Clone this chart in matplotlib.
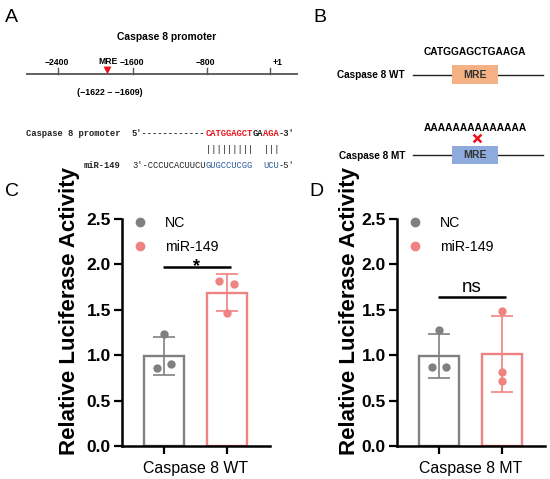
import matplotlib
matplotlib.use('Agg')
import matplotlib.pyplot as plt
from matplotlib.patches import Rectangle
from matplotlib.lines import Line2D

plt.rcParams['font.family'] = ['Liberation Sans', 'DejaVu Sans']

# datos
grupos = ['NC', 'miR-149']
wt_media = [0.99, 1.69]
wt_sd = [0.205, 0.20]
wt_puntos = [[0.86, 1.23, 0.90], [1.82, 1.47, 1.78]]
mt_media = [0.99, 1.01]
mt_sd = [0.24, 0.42]
mt_puntos = [[0.87, 1.28, 0.87], [0.81, 1.49, 0.72]]
categorias = ['Caspase 8 WT', 'Caspase 8 MT']
signif = ['*', 'ns']
signif_y = [1.97, 1.64]

promotor_ticks = ['\u22122400', '\u22121600', '\u2212800', '+1']
mre_rango = '(\u22121622 \u2013 \u22121609)'
seq_wt = 'CATGGAGCTGAAGA'
seq_mt = 'AAAAAAAAAAAAAA'

# estilo
gris = '#808080'
rojo = '#F08282'
colores = [gris, rojo]
W, H = 550, 479

fig = plt.figure(figsize=(W / 100, H / 100), dpi=100)
fig.patch.set_facecolor('white')

# capa para los esquemas A y B, en pixeles
ov = fig.add_axes([0, 0, 1, 1])
ov.set_xlim(0, W)
ov.set_ylim(H, 0)
ov.axis('off')

for letra, (lx, ly) in zip('ABCD', [(5, 17), (313, 17), (5, 191), (309, 192)]):
    ov.text(lx, ly, letra, fontsize=14, ha='left', va='center')

# ---- panel A ----
ov.text(167, 37, 'Caspase 8 promoter', fontsize=7.4, fontweight='bold', ha='center', va='center')
ov.plot([26, 298], [74, 74], color='#555555', lw=1.3, solid_capstyle='butt')
tick_x = [58, 133, 207, 270]
tick_lx = [57, 132, 205, 278]
for tx, lx, lab in zip(tick_x, tick_lx, promotor_ticks):
    ov.plot([tx, tx], [68, 74], color='#555555', lw=1.0)
    ov.text(lx, 62, lab, fontsize=6.2, fontweight='bold', ha='center', va='center')
ov.scatter([107], [70], marker='v', s=32, color='#E8141C', zorder=5, linewidths=0)
ov.text(108, 61, 'MRE', fontsize=6.2, fontweight='bold', ha='center', va='center')
ov.text(110, 92, mre_rango, fontsize=6.4, fontweight='bold', ha='center', va='center')

mono = dict(family='Liberation Mono', fontsize=6.3, va='center')
cw = 0.6 * 6.3 * 100 / 72
x0 = 132


def trozos(y, piezas, peso='bold'):
    i = 0
    for txt, col in piezas:
        ov.text(x0 + i * cw, y, txt, color=col, ha='left', fontweight=peso, **mono)
        i += len(txt)


ov.text(120, 134, 'Caspase 8 promoter', ha='right', fontweight='bold', color='#222222', **mono)
trozos(134, [("5'------------", '#222222'), ('CATGGAGCT', '#E8141C'), ('GA', '#222222'),
             ('AGA', '#E8141C'), ("-3'", '#222222')])
trozos(150, [('              ', 'k'), ('|||||||||  |||', '#222222')], peso='normal')
ov.text(120, 165, 'miR-149', ha='right', fontweight='bold', color='#222222', **mono)
trozos(165, [("3'-CCCUCACUUCU", '#222222'), ('GUGCCUCGG', '#2E5C9E'), ('  ', 'k'),
             ('UCU', '#2E5C9E'), ("-5'", '#222222')], peso='normal')

# ---- panel B ----
ov.text(475, 52, seq_wt, fontsize=7.3, fontweight='bold', ha='center', va='center')
ov.text(405, 75, categorias[0], fontsize=7.2, fontweight='bold', ha='right', va='center')
ov.plot([413, 543], [75, 75], color='#222222', lw=1.0)
ov.add_patch(Rectangle((452, 65), 46, 19, facecolor='#F4B183', edgecolor='none', zorder=3))
ov.text(475, 74.5, 'MRE', fontsize=7.6, fontweight='bold', ha='center', va='center', color='#333333', zorder=4)

ov.text(475, 128, seq_mt, fontsize=7.3, fontweight='bold', ha='center', va='center')
ov.scatter([477], [138], marker='x', s=32, color='#E8141C', linewidths=1.8, zorder=5)
ov.text(405, 156, categorias[1], fontsize=7.2, fontweight='bold', ha='right', va='center')
ov.plot([413, 543], [155, 155], color='#222222', lw=1.0)
ov.add_patch(Rectangle((452, 146), 46, 18, facecolor='#8FAADC', edgecolor='none', zorder=3))
ov.text(475, 155.5, 'MRE', fontsize=7.6, fontweight='bold', ha='center', va='center', color='#333333', zorder=4)

# ---- paneles C y D ----
jitter = [[[-0.11, 0, 0.11], [-0.12, 0, 0.11]],
          [[-0.11, 0, 0.11], [0, 0, 0]]]
ejes_left = [122, 397]
label_x = [-0.285, -0.25]
medias = [wt_media, mt_media]
sds = [wt_sd, mt_sd]
puntos = [wt_puntos, mt_puntos]

for k in range(2):
    ax = fig.add_axes([ejes_left[k] / W, 33 / H, 148 / W, 227 / H])
    ax.set_facecolor('none')
    for i in range(2):
        ax.bar(i, medias[k][i], width=0.63, facecolor='white', edgecolor=colores[i],
               linewidth=1.7, zorder=2)
        ax.errorbar(i, medias[k][i], yerr=sds[k][i], color=colores[i], capsize=8,
                    elinewidth=1.2, capthick=1.2, zorder=3)
        xs = [i + d for d in jitter[k][i]]
        ax.scatter(xs, puntos[k][i], s=36, color=colores[i], zorder=4, linewidths=0)
    ax.plot([-0.02, 1.06], [signif_y[k], signif_y[k]], color='black', lw=1.8,
            solid_capstyle='butt')
    if signif[k] == '*':
        ax.text(0.52, 1.93, '*', fontsize=13, fontweight='bold', ha='center', va='baseline')
    else:
        ax.text(0.52, 1.70, 'ns', fontsize=13.5, ha='center', va='baseline')

    ax.set_xlim(-0.667, 1.683)
    ax.set_ylim(0, 2.5)
    ax.set_yticks([0, 0.5, 1.0, 1.5, 2.0, 2.5])
    ax.set_yticklabels(['0.0', '0.5', '1.0', '1.5', '2.0', '2.5'])
    ax.set_xticks([0.5])
    ax.set_xticklabels([categorias[k]])
    ax.set_xticks([0, 1], minor=True)
    ax.tick_params(axis='x', which='major', length=0, labelsize=11.4, pad=11)
    ax.tick_params(axis='x', which='minor', length=6, width=1.6)
    ax.tick_params(axis='y', length=6, width=1.6, labelsize=12.5, pad=2)
    for t in ax.get_yticklabels():
        t.set_fontweight('bold')
    for s in ['top', 'right']:
        ax.spines[s].set_visible(False)
    for s in ['left', 'bottom']:
        ax.spines[s].set_linewidth(1.8)
    ax.set_ylabel('Relative Luciferase Activity', fontsize=16, fontweight='bold')
    ax.yaxis.set_label_coords(label_x[k], 0.595)

    handles = [Line2D([], [], marker='o', ls='none', color=c, markersize=6) for c in colores]
    ax.legend(handles, grupos, loc='upper left', bbox_to_anchor=(-0.01, 1.04), frameon=False,
              fontsize=10.2, handletextpad=0.75, labelspacing=0.75, borderaxespad=0)

fig.savefig('out.png', dpi=100, facecolor='white')
